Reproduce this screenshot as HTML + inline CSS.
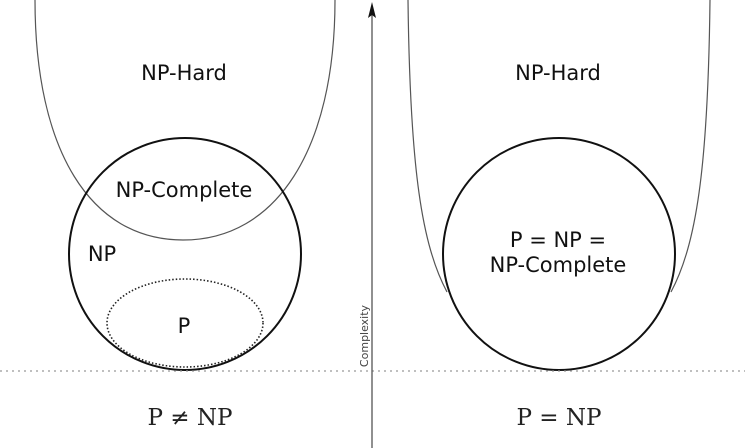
<!DOCTYPE html>
<html><head><style>html,body{margin:0;padding:0;background:#fff;}svg{display:block}</style></head>
<body>
<svg width="745" height="448" viewBox="0 0 745 448" xmlns="http://www.w3.org/2000/svg">
<g fill="none">
<path d="M35,0 C35,150 90,240 183,240 C276,240 335,150 335,0" stroke="#555" stroke-width="1.2"/>
<circle cx="185" cy="254" r="116" stroke="#111" stroke-width="2"/>
<ellipse cx="185" cy="323" rx="78" ry="44" stroke="#222" stroke-width="1.6" stroke-dasharray="1.5,2"/>
<path d="M408,0 C410,170 422,245 447,292" stroke="#555" stroke-width="1.2"/>
<path d="M710,0 C708,170 696,245 671,292" stroke="#555" stroke-width="1.2"/>
<circle cx="559" cy="254" r="116" stroke="#111" stroke-width="2"/>
<line x1="0" y1="371" x2="745" y2="371" stroke="#999" stroke-width="1.3" stroke-dasharray="2,4"/>
<line x1="372" y1="448" x2="372" y2="10" stroke="#555" stroke-width="1.3"/>
</g>
<path d="M372,2 L368,18 L372,15 L376,18 Z" fill="#111"/>
<g font-family="'DejaVu Sans','Liberation Sans',sans-serif" font-size="21" fill="#111" text-anchor="middle">
<text x="184" y="80">NP-Hard</text>
<text x="184" y="197">NP-Complete</text>
<text x="102" y="261">NP</text>
<text x="184" y="333">P</text>
<text x="558" y="80">NP-Hard</text>
<text x="558" y="247">P = NP =</text>
<text x="558" y="272">NP-Complete</text>
</g>
<text transform="translate(368,336) rotate(-90)" font-family="'DejaVu Sans','Liberation Sans',sans-serif" font-size="11" fill="#444" text-anchor="middle">Complexity</text>
<g font-family="'DejaVu Serif','Liberation Serif',serif" font-size="23" fill="#222" text-anchor="middle">
<text x="190" y="425">P ≠ NP</text>
<text x="559" y="425">P = NP</text>
</g>
</svg>
</body></html>
